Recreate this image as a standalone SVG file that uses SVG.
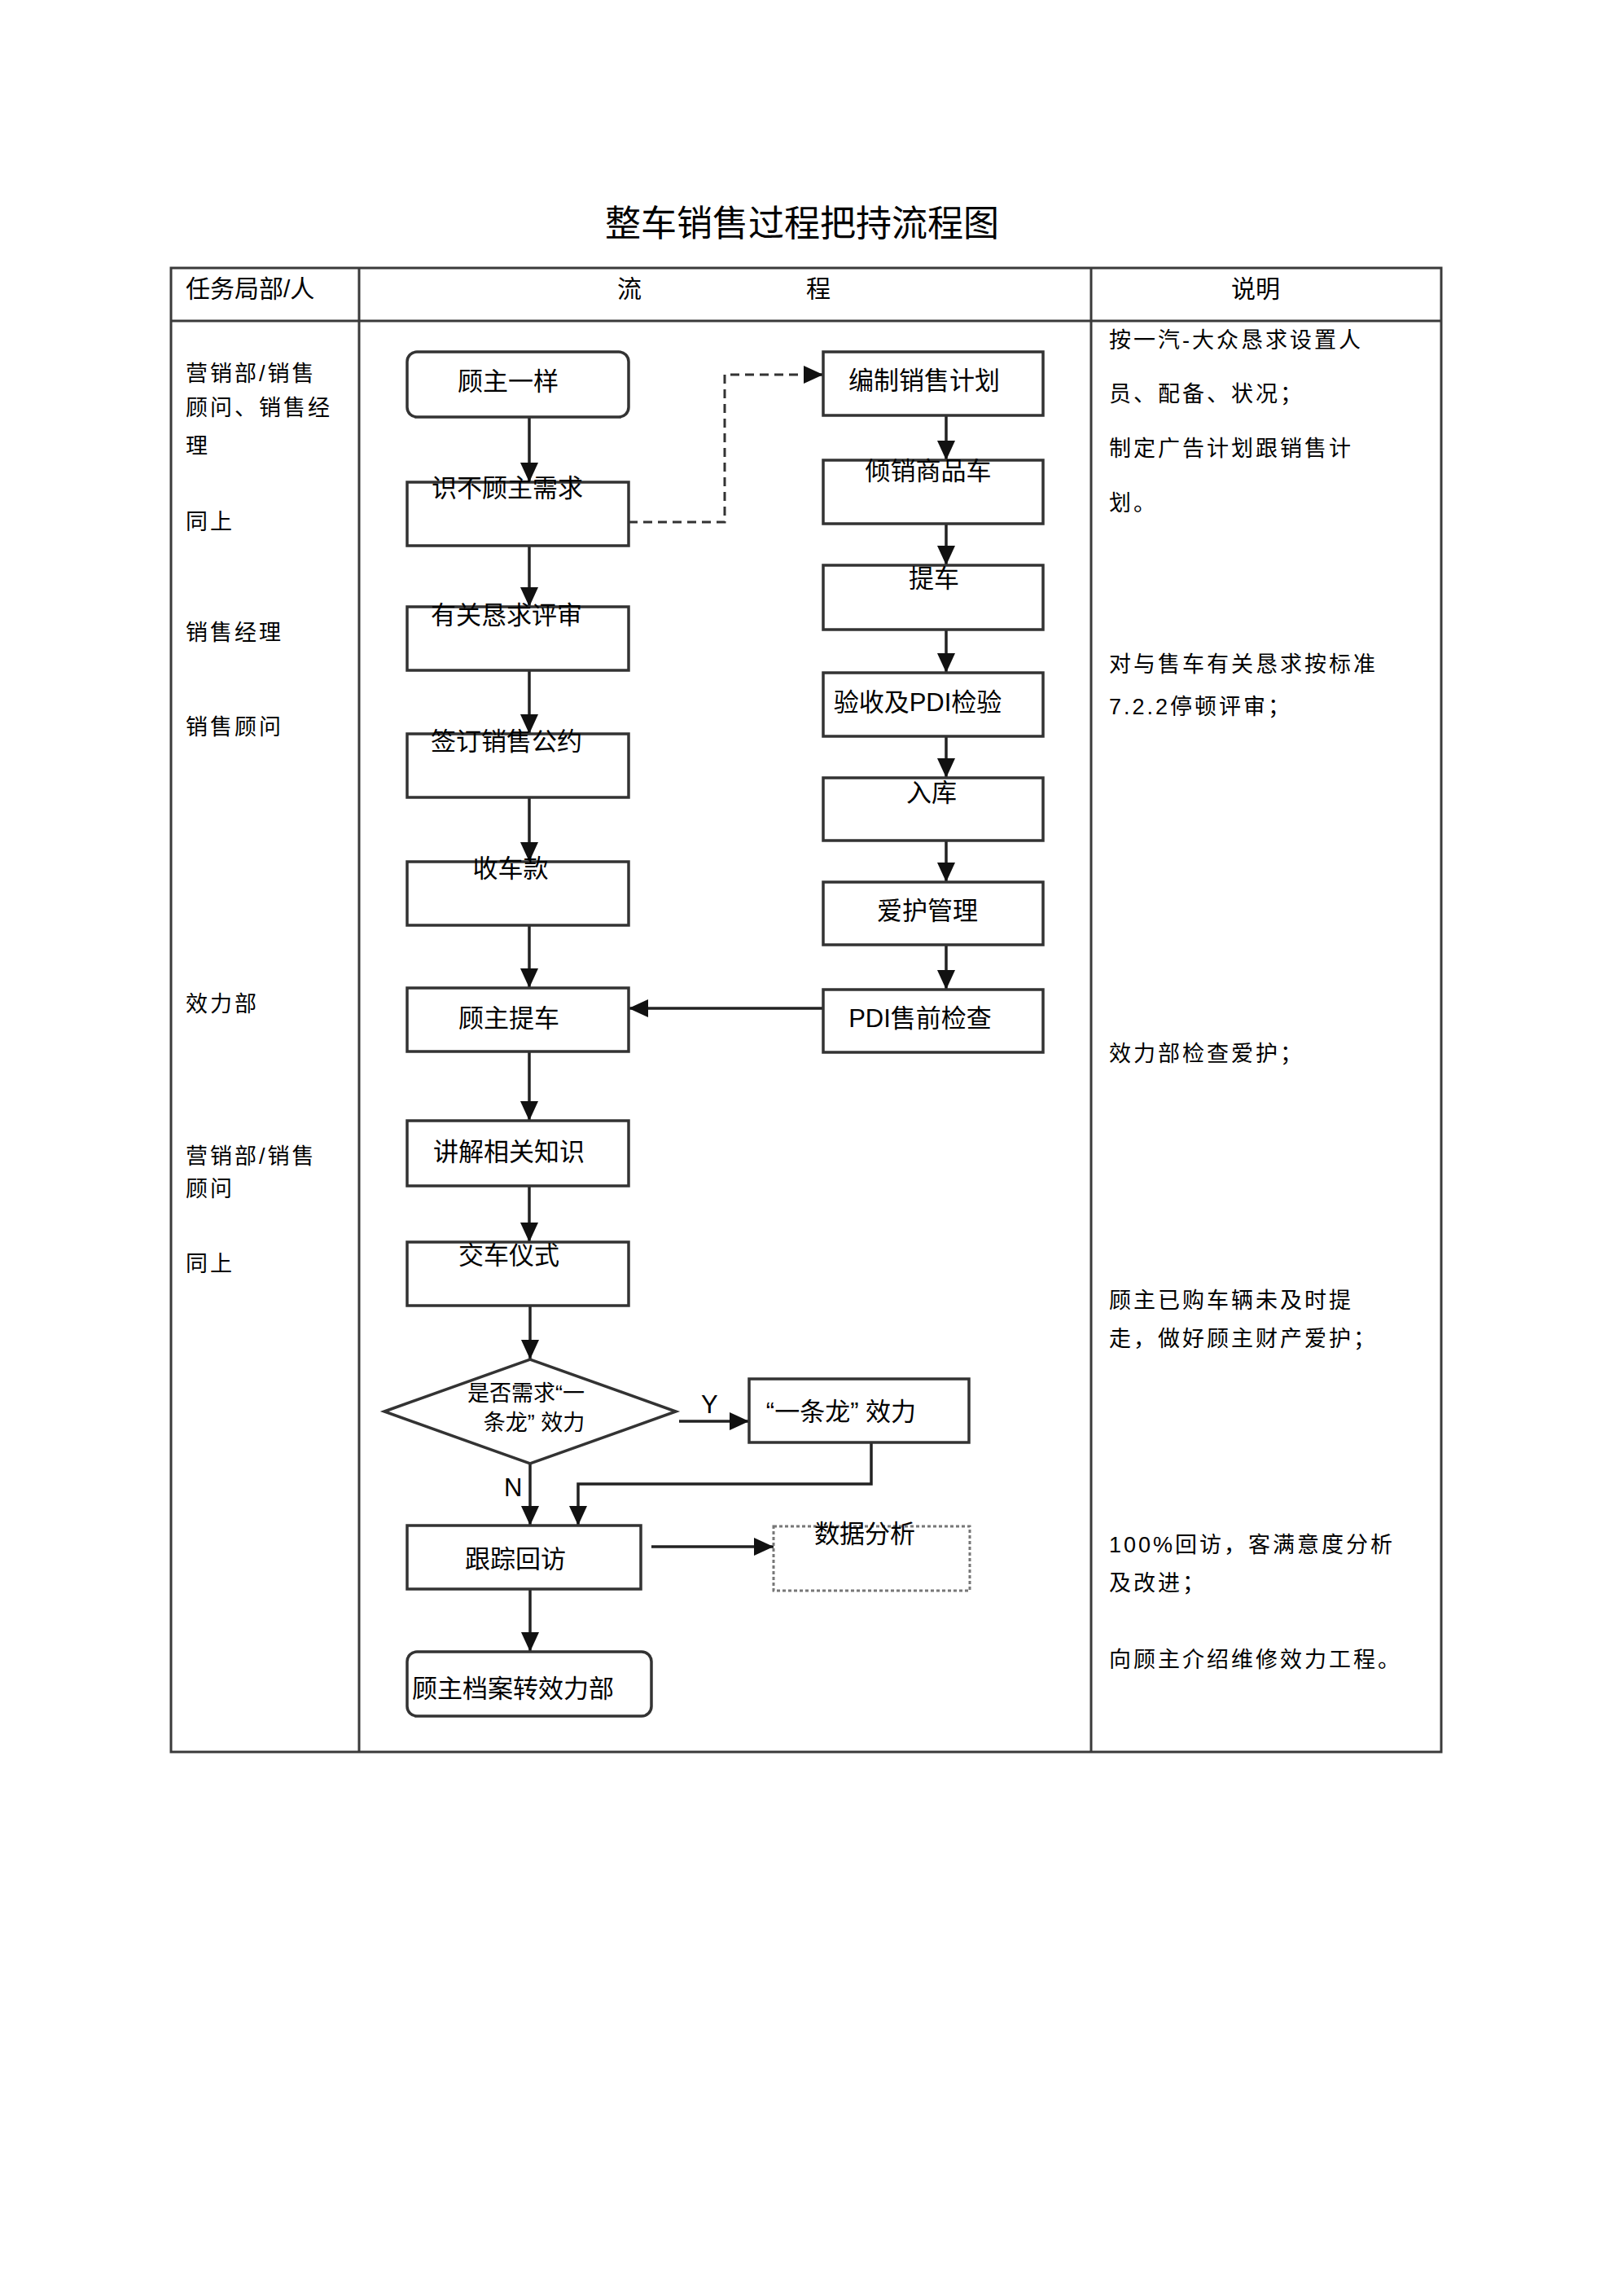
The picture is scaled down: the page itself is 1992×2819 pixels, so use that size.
<svg xmlns="http://www.w3.org/2000/svg" width="1992" height="2819" viewBox="0 0 1992 2819">
<style>
text{font-family:"Liberation Sans","Noto Sans CJK SC",sans-serif;fill:#000;}
.t{font-size:31px;}
.d{font-size:27px;}
.h{font-size:30px;}
.ts{font-size:27px;letter-spacing:3px;}
.c{text-anchor:middle;}
.title{font-size:44px;text-anchor:middle;}
.grid{stroke:#3a3a3a;stroke-width:3;fill:none;}
.box{fill:#fff;stroke:#333;stroke-width:3.5;}
.dot{fill:#fff;stroke:#777;stroke-width:3;stroke-dasharray:4 3;}
.ln{fill:none;stroke:#222;stroke-width:3.5;}
.dash{fill:none;stroke:#333;stroke-width:3;stroke-dasharray:11 7;}
.lbl{font-size:31px;}
</style>
<defs>
<marker id="ah" markerUnits="userSpaceOnUse" markerWidth="24" markerHeight="22" refX="24" refY="11" orient="auto">
<path d="M0,0 L24,11 L0,22 z" fill="#111"/>
</marker>
</defs>
<rect width="1992" height="2819" fill="#fff"/>
<text class="title" x="985" y="290">整车销售过程把持流程图</text>
<g id="table">
<rect class="grid" x="210" y="329" width="1560" height="1822"/>
<line class="grid" x1="210" y1="394" x2="1770" y2="394"/>
<line class="grid" x1="441" y1="329" x2="441" y2="2151"/>
<line class="grid" x1="1340" y1="329" x2="1340" y2="2151"/>
<text class="h" x="228" y="365">任务局部/人</text>
<text class="h" x="758" y="365">流</text>
<text class="h" x="990" y="365">程</text>
<text class="h" x="1512" y="365">说明</text>
</g>
<g id="roles">
<text class="ts" x="228" y="468">营销部/销售</text>
<text class="ts" x="228" y="510">顾问、销售经</text>
<text class="ts" x="228" y="557">理</text>
<text class="ts" x="228" y="650">同上</text>
<text class="ts" x="228" y="786">销售经理</text>
<text class="ts" x="228" y="902">销售顾问</text>
<text class="ts" x="228" y="1242">效力部</text>
<text class="ts" x="228" y="1429">营销部/销售</text>
<text class="ts" x="228" y="1469">顾问</text>
<text class="ts" x="228" y="1561">同上</text>
</g>
<g id="notes">
<text class="ts" x="1362" y="427">按一汽-大众恳求设置人</text>
<text class="ts" x="1362" y="493">员、配备、状况；</text>
<text class="ts" x="1362" y="560">制定广告计划跟销售计</text>
<text class="ts" x="1362" y="627">划。</text>
<text class="ts" x="1362" y="825">对与售车有关恳求按标准</text>
<text class="ts" x="1362" y="877">7.2.2停顿评审；</text>
<text class="ts" x="1362" y="1303">效力部检查爱护；</text>
<text class="ts" x="1362" y="1606">顾主已购车辆未及时提</text>
<text class="ts" x="1362" y="1653">走，做好顾主财产爱护；</text>
<text class="ts" x="1362" y="1906">100%回访，客满意度分析</text>
<text class="ts" x="1362" y="1953">及改进；</text>
<text class="ts" x="1362" y="2047">向顾主介绍维修效力工程。</text>
</g>
<g id="connectors">
<line class="ln" x1="650" y1="512" x2="650" y2="592" marker-end="url(#ah)"/>
<line class="ln" x1="650" y1="670" x2="650" y2="745" marker-end="url(#ah)"/>
<line class="ln" x1="650" y1="823" x2="650" y2="901" marker-end="url(#ah)"/>
<line class="ln" x1="650" y1="979" x2="650" y2="1058" marker-end="url(#ah)"/>
<line class="ln" x1="650" y1="1136" x2="650" y2="1213" marker-end="url(#ah)"/>
<line class="ln" x1="650" y1="1291" x2="650" y2="1376" marker-end="url(#ah)"/>
<line class="ln" x1="650" y1="1456" x2="650" y2="1525" marker-end="url(#ah)"/>
<line class="ln" x1="651" y1="1603" x2="651" y2="1669" marker-end="url(#ah)"/>
<line class="ln" x1="834" y1="1745" x2="920" y2="1745" marker-end="url(#ah)"/>
<polyline class="ln" points="1070,1771 1070,1822 710,1822 710,1873" marker-end="url(#ah)"/>
<line class="ln" x1="651" y1="1797" x2="651" y2="1873" marker-end="url(#ah)"/>
<line class="ln" x1="800" y1="1899" x2="950" y2="1899" marker-end="url(#ah)"/>
<line class="ln" x1="651" y1="1951" x2="651" y2="2028" marker-end="url(#ah)"/>
<line class="ln" x1="1162" y1="510" x2="1162" y2="565" marker-end="url(#ah)"/>
<line class="ln" x1="1162" y1="643" x2="1162" y2="694" marker-end="url(#ah)"/>
<line class="ln" x1="1162" y1="773" x2="1162" y2="826" marker-end="url(#ah)"/>
<line class="ln" x1="1162" y1="904" x2="1162" y2="955" marker-end="url(#ah)"/>
<line class="ln" x1="1162" y1="1032" x2="1162" y2="1083" marker-end="url(#ah)"/>
<line class="ln" x1="1162" y1="1160" x2="1162" y2="1215" marker-end="url(#ah)"/>
<line class="ln" x1="1011" y1="1238" x2="772" y2="1238" marker-end="url(#ah)"/>
<polyline class="dash" points="772,641 890,641 890,460 1000,460"/>
<line class="ln" x1="990" y1="460" x2="1011" y2="460" marker-end="url(#ah)"/>
<text class="lbl" x="861" y="1735">Y</text>
<text class="lbl" x="619" y="1837">N</text>
</g>
<g id="n1"><rect class="box" x="500" y="432" width="272" height="80" rx="12"/><text class="t c" x="624" y="479">顾主一样</text></g>
<g id="n2"><rect class="box" x="500" y="592" width="272" height="78"/><text class="t c" x="623" y="610">识不顾主需求</text></g>
<g id="n3"><rect class="box" x="500" y="745" width="272" height="78"/><text class="t c" x="622" y="766">有关恳求评审</text></g>
<g id="n4"><rect class="box" x="500" y="901" width="272" height="78"/><text class="t c" x="622" y="921">签订销售公约</text></g>
<g id="n5"><rect class="box" x="500" y="1058" width="272" height="78"/><text class="t c" x="627" y="1077">收车款</text></g>
<g id="n6"><rect class="box" x="500" y="1213" width="272" height="78"/><text class="t c" x="625" y="1261">顾主提车</text></g>
<g id="n7"><rect class="box" x="500" y="1376" width="272" height="80"/><text class="t c" x="625" y="1425">讲解相关知识</text></g>
<g id="n8"><rect class="box" x="500" y="1525" width="272" height="78"/><text class="t c" x="625" y="1552">交车仪式</text></g>
<g id="n9"><polygon class="box" points="472,1733 651,1669 830,1733 651,1797"/><text class="d c" x="646" y="1720">是否需求“一</text><text class="d c" x="656" y="1756">条龙” 效力</text></g>
<g id="n10"><rect class="box" x="920" y="1693" width="270" height="78"/><text class="t c" x="1033" y="1744">“一条龙” 效力</text></g>
<g id="n11"><rect class="box" x="500" y="1873" width="287" height="78"/><text class="t c" x="633" y="1925">跟踪回访</text></g>
<g id="n12"><rect class="dot" x="950" y="1874" width="241" height="79"/><text class="t c" x="1062" y="1894">数据分析</text></g>
<g id="n13"><rect class="box" x="500" y="2028" width="300" height="79" rx="12"/><text class="t c" x="630" y="2084">顾主档案转效力部</text></g>
<g id="r1"><rect class="box" x="1011" y="432" width="270" height="78"/><text class="t c" x="1135" y="478">编制销售计划</text></g>
<g id="r2"><rect class="box" x="1011" y="565" width="270" height="78"/><text class="t c" x="1140" y="589">倾销商品车</text></g>
<g id="r3"><rect class="box" x="1011" y="694" width="270" height="79"/><text class="t c" x="1147" y="721">提车</text></g>
<g id="r4"><rect class="box" x="1011" y="826" width="270" height="78"/><text class="t c" x="1127" y="873">验收及PDI检验</text></g>
<g id="r5"><rect class="box" x="1011" y="955" width="270" height="77"/><text class="t c" x="1144" y="984">入库</text></g>
<g id="r6"><rect class="box" x="1011" y="1083" width="270" height="77"/><text class="t c" x="1139" y="1129">爱护管理</text></g>
<g id="r7"><rect class="box" x="1011" y="1215" width="270" height="77"/><text class="t c" x="1130" y="1261">PDI售前检查</text></g>
</svg>
